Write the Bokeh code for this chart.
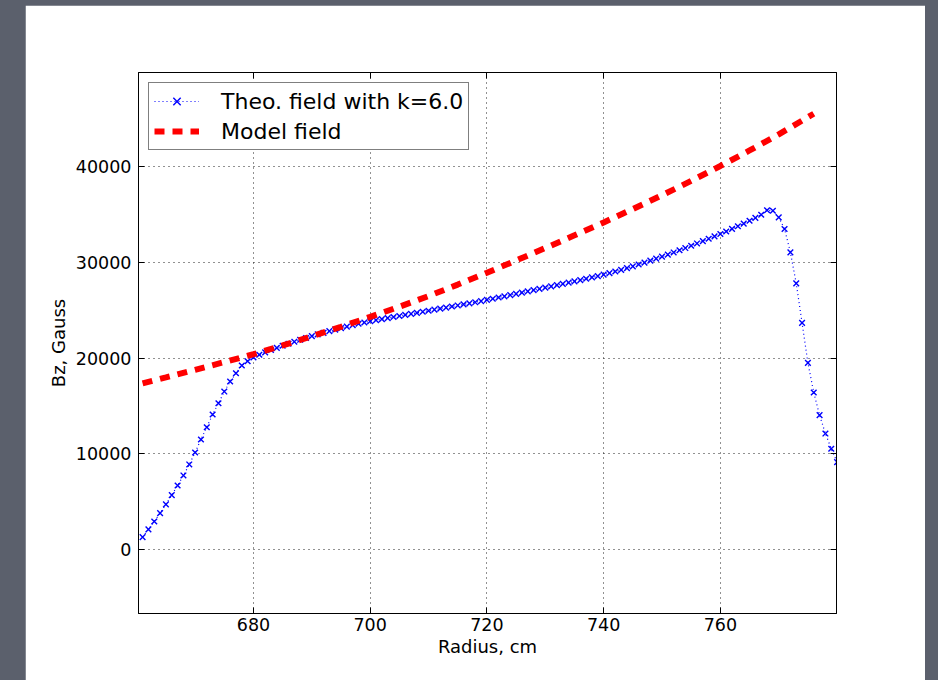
from bokeh.plotting import figure
from bokeh.models import LinearAxis, FixedTicker, Range1d, CustomLabelingPolicy
from bokeh.layouts import column
from bokeh.embed import file_html
from bokeh.resources import INLINE

# ---- data ----
theo_x = list(range(661, 781))
theo_bz = [
    1285, 2090, 2920, 3790, 4700, 5670, 6680, 7730, 8880, 10130,
    11490, 12770, 14100, 15280, 16500, 17550, 18410, 19220, 19670, 20080,
    20350, 20600, 20840, 21070, 21290, 21500, 21710, 21910, 22100, 22290,
    22470, 22640, 22810, 22970, 23130, 23290, 23440, 23590, 23720, 23850,
    23960, 24070, 24180, 24290, 24400, 24510, 24620, 24730, 24840, 24950,
    25060, 25170, 25280, 25390, 25500, 25610, 25720, 25830, 25950, 26080,
    26200, 26330, 26450, 26580, 26710, 26840, 26970, 27100, 27230, 27360,
    27490, 27620, 27750, 27880, 28010, 28150, 28290, 28430, 28570, 28720,
    28880, 29050, 29220, 29400, 29590, 29780, 29980, 30180, 30390, 30600,
    30820, 31040, 31270, 31500, 31740, 31980, 32220, 32470, 32720, 32970,
    33230, 33500, 33780, 34060, 34350, 34650, 34980, 35450, 35400, 34700,
    33490, 31050, 27810, 23680, 19500, 16400, 14030, 12110, 10520, 9120,
]

model_x = [661, 665, 670, 675, 680, 685, 690, 695, 700, 705, 710, 715,
           720, 725, 730, 735, 740, 745, 750, 755, 760, 765, 770, 776]
model_bz = [17350, 17980, 18770, 19580, 20400, 21320, 22280, 23270, 24300,
            25370, 26480, 27680, 28920, 30200, 31500, 32830, 34180, 35580,
            37020, 38520, 40080, 41700, 43380, 45540]

x_ticks = [680, 700, 720, 740, 760]
y_ticks = [0, 10000, 20000, 30000, 40000]
y_tick_labels = ["0", "10000", "20000", "30000", "40000"]

label_theo = "Theo. field with k=6.0"
label_model = "Model field"
x_title = "Radius, cm"
y_title = "Bz, Gauss"

FONT = "DejaVu Sans"
GRAY = "#5b606c"

p = figure(
    frame_width=698, frame_height=541,
    x_range=Range1d(660.3, 779.9), y_range=Range1d(-6700, 49850),
    output_backend="svg", toolbar_location=None,
    min_border_left=113, min_border_right=89,
    min_border_top=67, min_border_bottom=67,
)
p.margin = (13, 13, 0, 33)
p.background_fill_color = "white"
p.border_fill_color = "white"
p.outline_line_color = "black"
p.outline_line_width = 1

# grid
for g, t in ((p.xgrid, x_ticks), (p.ygrid, y_ticks)):
    g.ticker = FixedTicker(ticks=t)
    g.grid_line_color = "#222222"
    g.grid_line_dash = "1 4"
    g.grid_line_width = 1

p.xaxis.ticker = FixedTicker(ticks=x_ticks)
p.yaxis.ticker = FixedTicker(ticks=y_ticks)
p.yaxis.major_label_overrides = {t: l for t, l in zip(y_ticks, y_tick_labels)}
p.xaxis.axis_label = x_title
p.yaxis.axis_label = y_title

for ax in (p.xaxis[0], p.yaxis[0]):
    ax.axis_line_color = "black"
    ax.major_tick_in = 6
    ax.major_tick_out = 0
    ax.minor_tick_line_color = None
    ax.major_tick_line_color = "black"
    ax.major_label_text_font = FONT
    ax.major_label_text_font_size = "17.5px"
    ax.major_label_text_color = "black"
    ax.axis_label_text_font = FONT
    ax.axis_label_text_font_size = "18px"
    ax.axis_label_text_font_style = "normal"
    ax.axis_label_text_color = "black"

p.xaxis.major_label_standoff = 4
p.xaxis.axis_label_standoff = 2
p.yaxis.major_label_standoff = 7
p.yaxis.axis_label_standoff = 4

# ticks on top and right (no labels)
no_labels = "for (const i of indices) indices.unset(i)"
top = LinearAxis(ticker=FixedTicker(ticks=x_ticks), major_tick_in=6, major_tick_out=0,
                 minor_tick_line_color=None, major_label_standoff=0,
                 major_label_policy=CustomLabelingPolicy(code=no_labels),
                 axis_line_color="black")
right = LinearAxis(ticker=FixedTicker(ticks=y_ticks), major_tick_in=6, major_tick_out=0,
                   minor_tick_line_color=None, major_label_standoff=0,
                   major_label_policy=CustomLabelingPolicy(code=no_labels),
                   axis_line_color="black")
p.add_layout(top, "above")
p.add_layout(right, "right")

# series
p.line(theo_x, theo_bz, line_color="#0000ff", line_width=1.2, line_dash="1 3",
       legend_label=label_theo)
p.scatter(theo_x, theo_bz, marker="x", size=8, line_color="#0000ff", line_width=1.4,
          legend_label=label_theo)
p.line(model_x, model_bz, line_color="#ff0000", line_width=6, line_dash="10 8",
       legend_label=label_model)

lg = p.legend[0]
lg.location = "top_left"
lg.margin = 10
lg.padding = 5
lg.spacing = 4
lg.label_height = 26
lg.glyph_height = 26
lg.glyph_width = 45
lg.label_standoff = 22
lg.label_text_font = FONT
lg.label_text_font_size = "22px"
lg.label_text_color = "black"
lg.border_line_color = "black"
lg.border_line_width = 1.5
lg.background_fill_color = "white"
lg.background_fill_alpha = 1

layout = column(p, styles={"background-color": GRAY, "margin": "-8px 0 0 -8px"})

open("out.html", "w").write(file_html(layout, INLINE))
